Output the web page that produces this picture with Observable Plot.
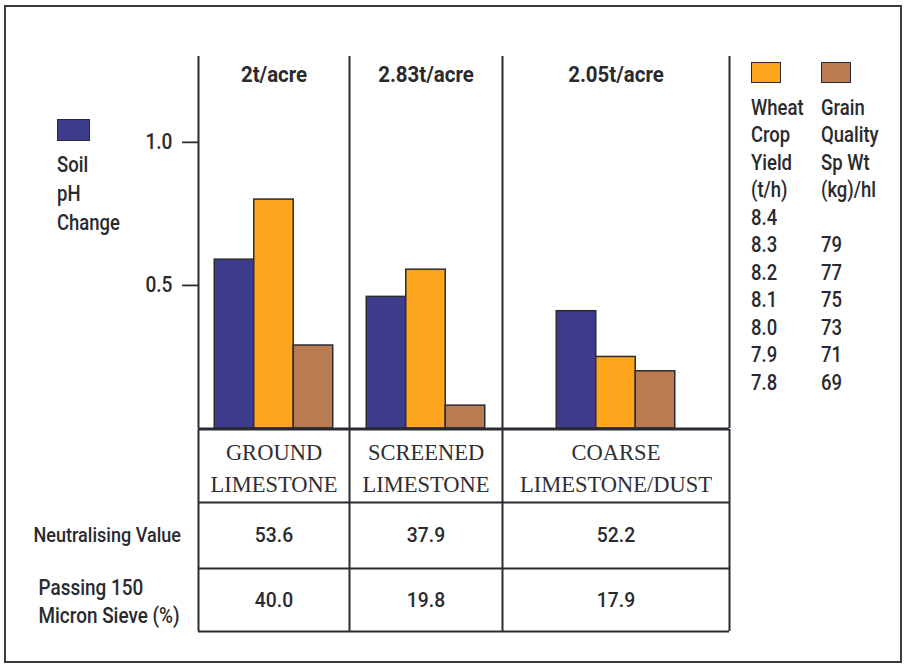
<!DOCTYPE html>
<html>
<head>
<meta charset="utf-8">
<script src="https://cdn.jsdelivr.net/npm/d3@7"></script>
<script src="https://cdn.jsdelivr.net/npm/@observablehq/plot@0.6"></script>
<style>
  html, body { margin: 0; padding: 0; background: #fff; }
  #page { position: relative; width: 904px; height: 667px; overflow: hidden;
          font-family: "Roboto", sans-serif; color: #2a2a2e; }
  #frame { position: absolute; left: 4px; top: 5px; width: 894px; height: 654px;
           border: 2px solid #3a3a40; }
  .abs { position: absolute; }
  svg { background: transparent !important; }
  .swatch { position: absolute; box-sizing: border-box; border: 1.5px solid #2b2b33; }
  .legtext { position: absolute; font-size: 22px; font-weight: 500; white-space: pre;
             transform: scaleX(0.84); transform-origin: 0 0; }
</style>
</head>
<body>
<div id="page">
  <div id="frame"></div>
  <div id="chart" class="abs" style="left:0;top:0"></div>
  <div id="table" class="abs" style="left:0;top:428px"></div>
</div>
<script>
// ---------------- data ----------------
const series = ["Soil pH Change", "Wheat Crop Yield", "Grain Quality"];
const types = ["GROUND LIMESTONE", "SCREENED LIMESTONE", "COARSE LIMESTONE/DUST"];
const rates = ["2t/acre", "2.83t/acre", "2.05t/acre"];
// bar heights on the common chart axis (pH change units)
const soilPhChange = [0.59, 0.46, 0.41];
const wheatCropYield = [0.80, 0.555, 0.25];
const grainQuality = [0.29, 0.08, 0.20];
const yTicks = [0.5, 1.0];
const rowLabels = ["Neutralising Value", "Passing 150\nMicron Sieve (%)"];
const neutralisingValue = [53.6, 37.9, 52.2];
const passing150 = [40.0, 19.8, 17.9];
const soilHeader = ["Soil", "pH", "Change"];
const wheatHeader = ["Wheat", "Crop", "Yield", "(t/h)"];
const grainHeader = ["Grain", "Quality", "Sp Wt", "(kg)/hl"];
const wheatScaleLabels = ["8.4", "8.3", "8.2", "8.1", "8.0", "7.9", "7.8"];
const grainScaleLabels = ["", "79", "77", "75", "73", "71", "69"];

// ---------------- layout / style ----------------
const colors = ["#3d3b8c", "#fda51d", "#b97b4f"];
const ink = "#2b2b33";
const sans = `"Roboto", sans-serif`;
const serif = `"Liberation Serif", "DejaVu Serif", serif`;
const panelSpan = [151, 153, 227];
const barSpan = 39.5;
const rowSpan = [73, 66, 63];

const panelStart = panelSpan.map((s, i) => d3.sum(panelSpan.slice(0, i)));
const totalSpan = d3.sum(panelSpan);
const panelEdges = [...panelStart, totalSpan];
const panels = types.map((t, i) => ({type: t, rate: rates[i], center: panelStart[i] + panelSpan[i] / 2}));

const valuesBySeries = [soilPhChange, wheatCropYield, grainQuality];
const bars = [];
types.forEach((t, i) => {
  const x0 = panelStart[i] + (panelSpan[i] - series.length * barSpan) / 2;
  series.forEach((s, j) => {
    bars.push({type: t, series: s, x1: x0 + j * barSpan, x2: x0 + (j + 1) * barSpan, value: valuesBySeries[j][i]});
  });
});

// condense the glyphs of a mark's texts horizontally around their anchor
function condenseGroup(g, k) {
  g.querySelectorAll("text").forEach(t => {
    const x = +(t.getAttribute("x") || 0);
    const tr = t.getAttribute("transform") || "";
    t.setAttribute("transform", `${tr} translate(${x},0) scale(${k},1) translate(${-x},0)`);
  });
}

// ---------------- chart ----------------
const chart = Plot.plot({
  width: 904, height: 430,
  marginLeft: 198, marginRight: 175, marginTop: 56, marginBottom: 2,
  x: {domain: [0, totalSpan], axis: null},
  y: {domain: [0, 1.3], axis: null},
  color: {domain: series, range: colors},
  style: {fontFamily: sans, fontSize: "22px", color: "#2a2a2e", background: "transparent"},
  marks: [
    Plot.axisY({ticks: yTicks, tickFormat: d => d.toFixed(1), tickSize: 16, tickPadding: 10,
                label: null, fontSize: 22, fontWeight: 500, strokeWidth: 1.8, stroke: ink}),
    Plot.rectY(bars, {x1: "x1", x2: "x2", y: "value", fill: "series", stroke: ink, strokeWidth: 1.5}),
    Plot.ruleX(panelEdges, {stroke: ink, strokeWidth: 2}),
    Plot.ruleY([0], {stroke: ink, strokeWidth: 2}),
    Plot.text(panels, {x: "center", text: "rate", frameAnchor: "top", dy: 10, fontWeight: "bold",
                       fontSize: 22, fill: "#2a2a2e"})
  ]
});
chart.querySelectorAll("g[aria-label='y-axis tick label']").forEach(g => condenseGroup(g, 0.87));
chart.querySelectorAll("g[aria-label='text']").forEach(g => condenseGroup(g, 0.93));
document.getElementById("chart").appendChild(chart);

// ---------------- table ----------------
const rowStart = rowSpan.map((s, i) => d3.sum(rowSpan.slice(0, i)));
const totalRows = d3.sum(rowSpan);
const rowEdges = [...rowStart, totalRows];
const rowCenter = rowSpan.map((s, i) => rowStart[i] + s / 2);

const heads = types.map((t, i) => ({x: panelStart[i] + panelSpan[i] / 2, y: rowCenter[0], text: t.replace(" ", "\n")}));
const vals = [];
types.forEach((t, i) => {
  const c = panelStart[i] + panelSpan[i] / 2;
  vals.push({x: c, y: rowCenter[1], text: neutralisingValue[i].toFixed(1)});
  vals.push({x: c, y: rowCenter[2], text: passing150[i].toFixed(1)});
});
const labels = rowLabels.map((l, i) => ({text: l, y: rowCenter[i + 1]}));

const table = Plot.plot({
  width: 904, height: 206,
  marginLeft: 198, marginRight: 175, marginTop: 1, marginBottom: 3,
  x: {domain: [0, totalSpan], axis: null},
  y: {domain: [totalRows, 0], axis: null},
  style: {fontFamily: sans, fontSize: "22px", color: "#2a2a2e", background: "transparent"},
  marks: [
    Plot.ruleY(rowEdges, {x1: 0, x2: totalSpan, stroke: ink, strokeWidth: 2}),
    Plot.ruleX(panelEdges, {y1: 0, y2: totalRows, stroke: ink, strokeWidth: 2}),
    Plot.text(heads, {x: "x", y: "y", text: "text", fontFamily: serif, fontSize: 22.5, lineHeight: 1.42, fill: "#2e2e33"}),
    Plot.text(vals, {x: "x", y: "y", text: "text", fontSize: 21, fontWeight: 500, fill: "#2a2a2e"}),
    Plot.text(labels.slice(0, 1), {y: "y", text: "text", frameAnchor: "left", textAnchor: "start", dx: -165,
                       fontSize: 21, fontWeight: 500, fill: "#2a2a2e"}),
    Plot.text(labels.slice(1), {y: "y", text: "text", frameAnchor: "left", textAnchor: "start", dx: -160,
                       fontSize: 21.5, fontWeight: 500, lineHeight: 1.3, fill: "#2a2a2e"})
  ]
});
const tableTexts = table.querySelectorAll("g[aria-label='text']");
condenseGroup(tableTexts[1], 0.92);
condenseGroup(tableTexts[2], 0.86);
condenseGroup(tableTexts[3], 0.88);
document.getElementById("table").appendChild(table);

// ---------------- legends ----------------
const page = document.getElementById("page");
function addSwatch(left, top, w, h, color) {
  const d = document.createElement("div");
  d.className = "swatch";
  Object.assign(d.style, {left: left + "px", top: top + "px", width: w + "px", height: h + "px", background: color});
  page.appendChild(d);
}
function addText(left, top, lines, lh) {
  const d = document.createElement("div");
  d.className = "legtext";
  d.style.left = left + "px"; d.style.top = top + "px"; d.style.lineHeight = lh + "px";
  d.textContent = lines.join("\n");
  page.appendChild(d);
}
addSwatch(57, 119, 33, 22, colors[0]);
addText(57, 150, soilHeader, 29);
addSwatch(751, 62, 30, 21, colors[1]);
addSwatch(821, 62, 30, 21, colors[2]);
addText(751, 93.5, wheatHeader.concat(wheatScaleLabels), 27.5);
addText(821, 93.5, grainHeader.concat(grainScaleLabels), 27.5);
</script>
</body>
</html>
